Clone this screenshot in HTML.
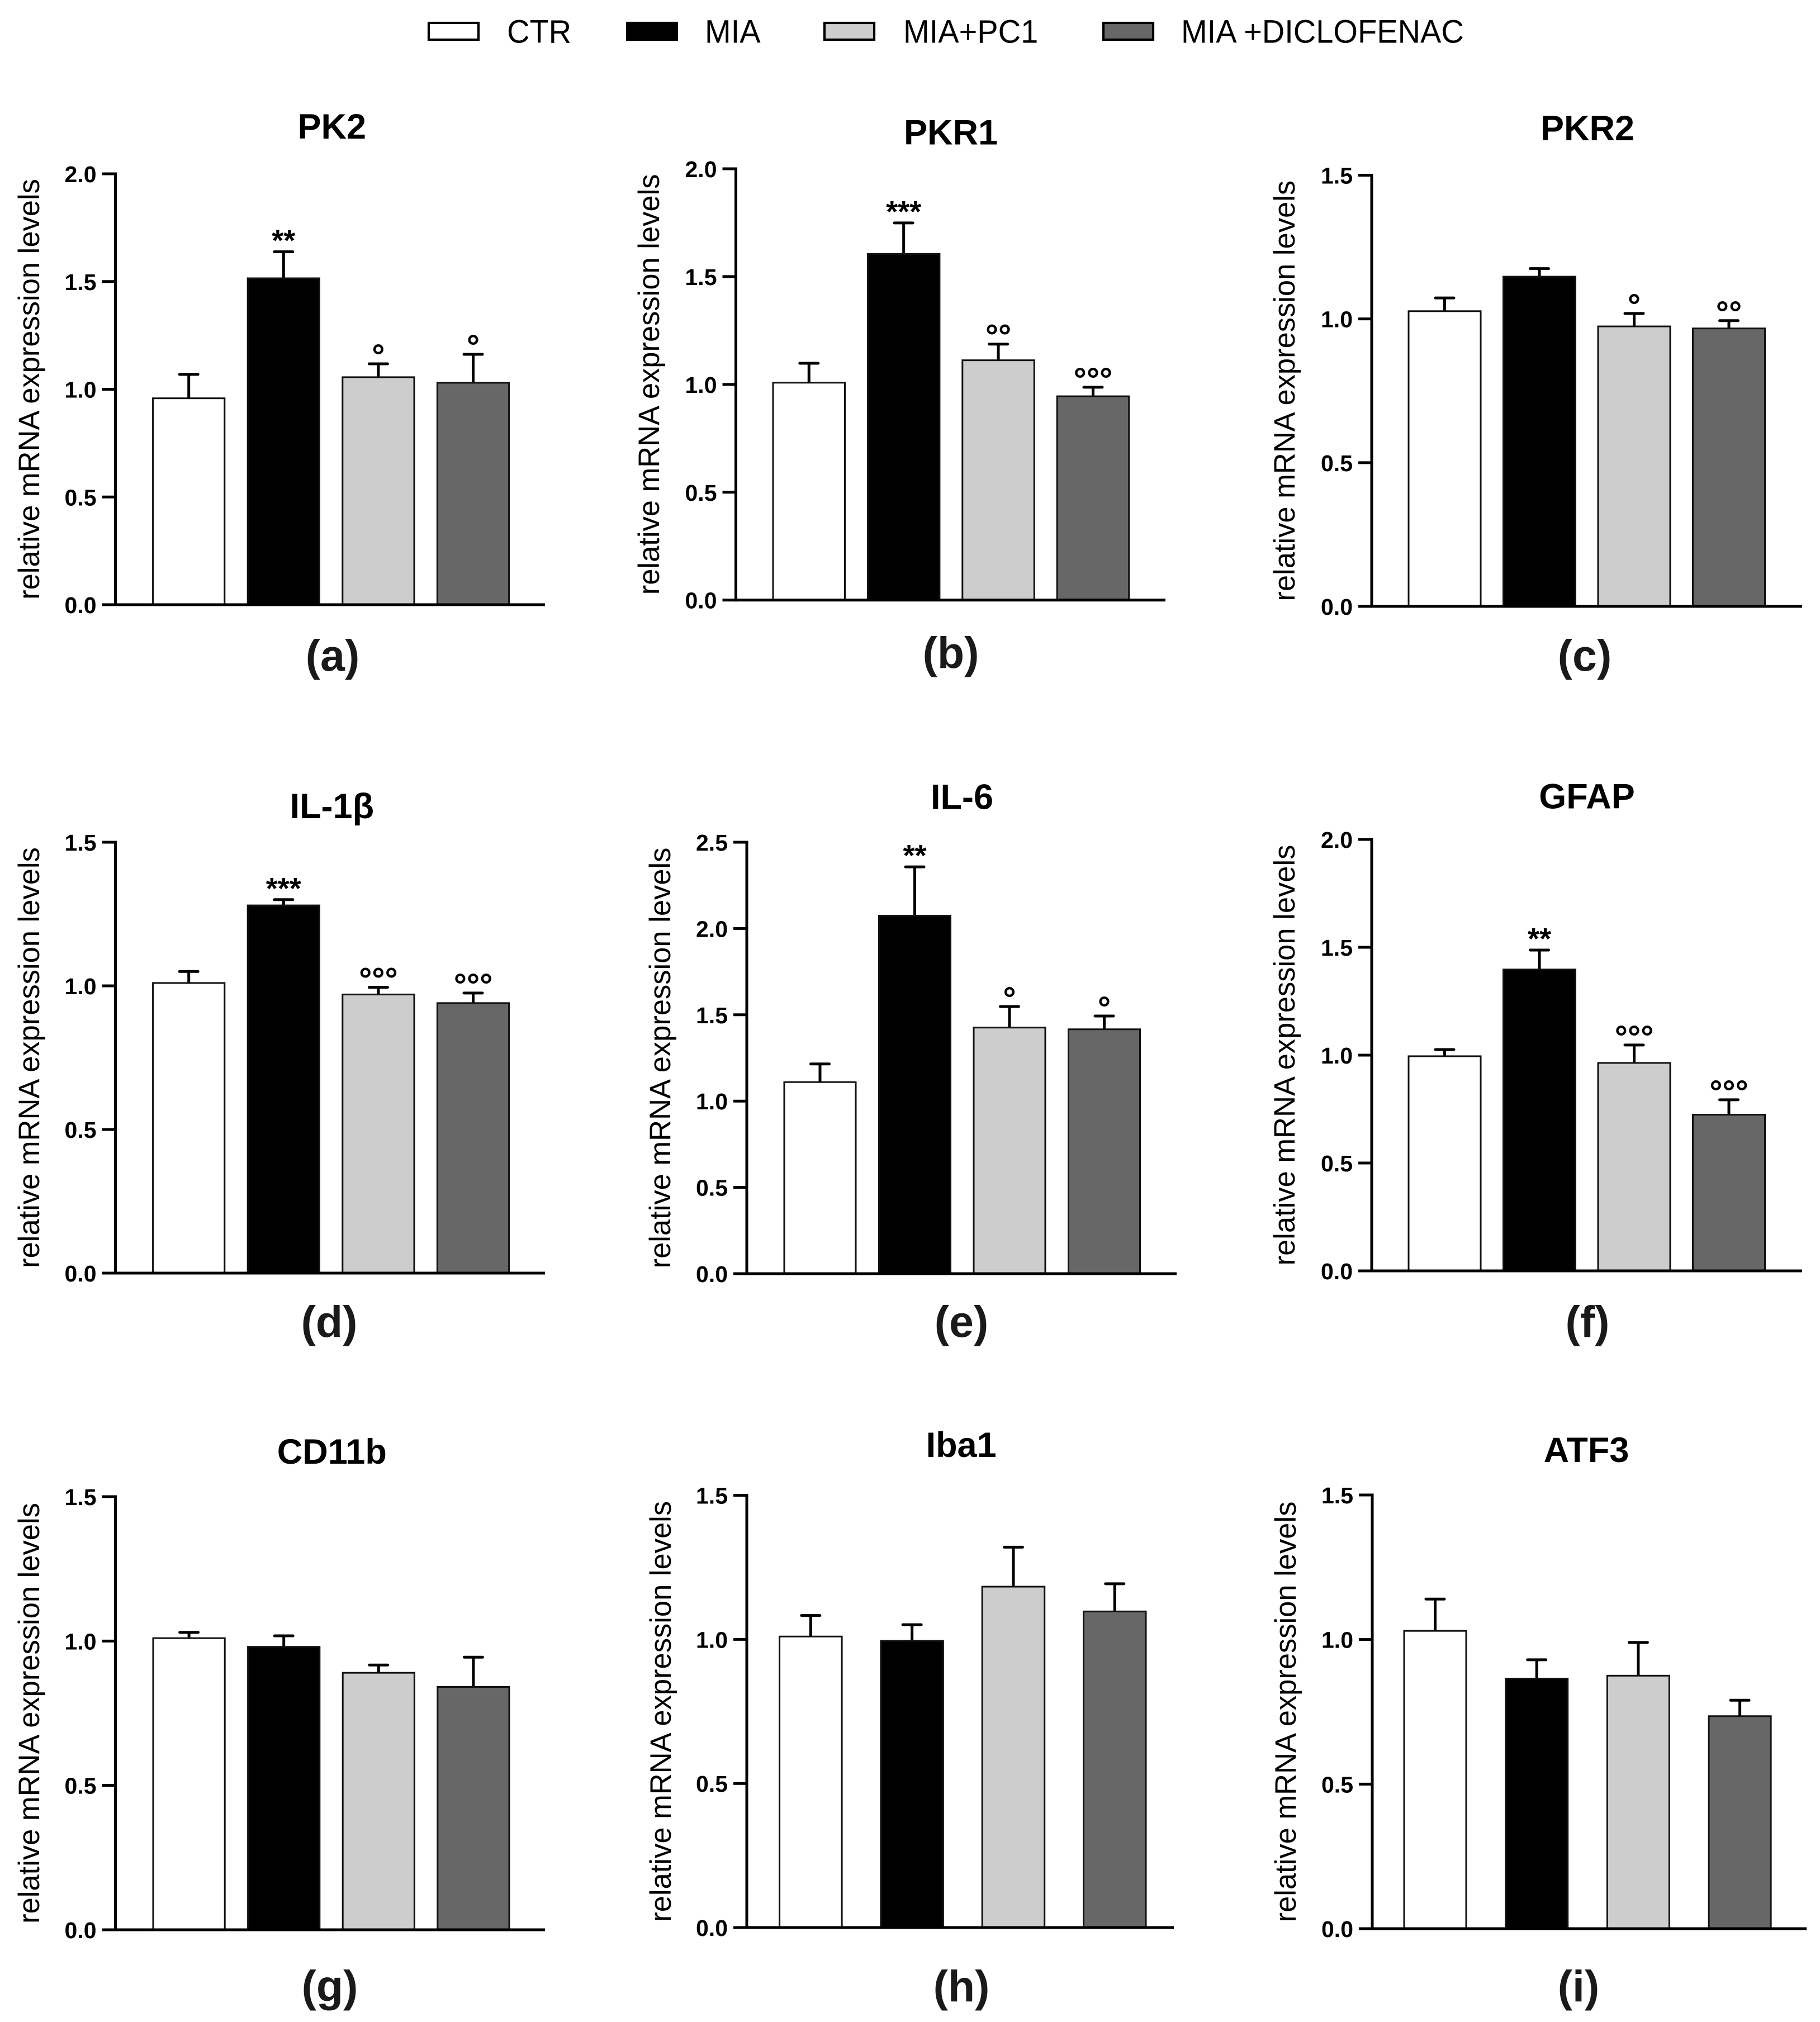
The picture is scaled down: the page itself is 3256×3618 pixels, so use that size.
<!DOCTYPE html>
<html lang="en">
<head>
<meta charset="utf-8">
<title>Relative mRNA expression levels</title>
<style>
html,body{margin:0;padding:0;background:#fff;width:3256px;height:3618px;overflow:hidden}
svg{display:block;font-family:"Liberation Sans",Arial,sans-serif}
</style>
</head>
<body>
<svg id="figure" xmlns="http://www.w3.org/2000/svg" width="3256" height="3618" viewBox="0 0 3256 3618"></svg>
<script>
const groupNames = ['CTR', 'MIA', 'MIA+PC1', 'MIA +DICLOFENAC'];
const groupFills = ['#ffffff', '#000000', '#cdcdcd', '#676767'];

const ticksTo15 = [0, 0.5, 1.0, 1.5];
const ticksTo20 = [0, 0.5, 1.0, 1.5, 2.0];
const ticksTo25 = [0, 0.5, 1.0, 1.5, 2.0, 2.5];

const pk2Values = [0.958, 1.515, 1.056, 1.03];
const pk2ErrorTops = [1.069, 1.638, 1.118, 1.162];
const pk2Marks = ['', '**', '°', '°'];

const pkr1Values = [1.008, 1.605, 1.112, 0.945];
const pkr1ErrorTops = [1.098, 1.749, 1.187, 0.987];
const pkr1Marks = ['', '***', '°°', '°°°'];

const pkr2Values = [1.027, 1.147, 0.974, 0.967];
const pkr2ErrorTops = [1.073, 1.175, 1.019, 0.994];
const pkr2Marks = ['', '', '°', '°°'];

const il1bValues = [1.01, 1.28, 0.97, 0.94];
const il1bErrorTops = [1.05, 1.30, 0.995, 0.975];
const il1bMarks = ['', '***', '°°°', '°°°'];

const il6Values = [1.11, 2.074, 1.426, 1.416];
const il6ErrorTops = [1.215, 2.357, 1.548, 1.493];
const il6Marks = ['', '**', '°', '°'];

const gfapValues = [0.995, 1.397, 0.964, 0.724];
const gfapErrorTops = [1.026, 1.487, 1.047, 0.793];
const gfapMarks = ['', '**', '°°°', '°°°'];

const cd11bValues = [1.01, 0.98, 0.89, 0.841];
const cd11bErrorTops = [1.03, 1.018, 0.917, 0.944];
const cd11bMarks = ['', '', '', ''];

const iba1Values = [1.01, 0.995, 1.183, 1.097];
const iba1ErrorTops = [1.083, 1.051, 1.32, 1.193];
const iba1Marks = ['', '', '', ''];

const atf3Values = [1.03, 0.865, 0.875, 0.735];
const atf3ErrorTops = [1.14, 0.93, 0.99, 0.79];
const atf3Marks = ['', '', '', ''];

const panels = [
  {title:'PK2',  tag:'(a)', values:pk2Values,  tops:pk2ErrorTops,  marks:pk2Marks,  ticks:ticksTo20, ax:206.5, y0:1082, yT:311,  xEnd:975,  bar0:273.6, w:128.2, step:169.6, titleX:593.8, titleY:248,  tagX:595,  tagY:1200, ylX:70},
  {title:'PKR1', tag:'(b)', values:pkr1Values, tops:pkr1ErrorTops, marks:pkr1Marks, ticks:ticksTo20, ax:1316.5,y0:1073.7,yT:302, xEnd:2085, bar0:1383,  w:128.5, step:169.4, titleX:1701,  titleY:258.7,tagX:1701, tagY:1195, ylX:1179},
  {title:'PKR2', tag:'(c)', values:pkr2Values, tops:pkr2ErrorTops, marks:pkr2Marks, ticks:ticksTo15, ax:2454,  y0:1085, yT:313.5,xEnd:3224, bar0:2520,  w:129,   step:169.5, titleX:2840, titleY:251,  tagX:2835, tagY:1200, ylX:2316},
  {title:'IL-1β',tag:'(d)', values:il1bValues, tops:il1bErrorTops, marks:il1bMarks, ticks:ticksTo15, ax:206.5, y0:2278, yT:1507, xEnd:975,  bar0:273.6, w:128.2, step:169.6, titleX:593.8, titleY:1464, tagX:589,  tagY:2392, ylX:70},
  {title:'IL-6', tag:'(e)', values:il6Values,  tops:il6ErrorTops,  marks:il6Marks,  ticks:ticksTo25, ax:1336,  y0:2279, yT:1507, xEnd:2105, bar0:1403,  w:128,   step:169.5, titleX:1721, titleY:1447.5, tagX:1720, tagY:2392, ylX:1199},
  {title:'GFAP', tag:'(f)', values:gfapValues, tops:gfapErrorTops, marks:gfapMarks, ticks:ticksTo20, ax:2454,  y0:2274, yT:1502, xEnd:3224, bar0:2520,  w:129,   step:169.5, titleX:2839, titleY:1446.5, tagX:2840, tagY:2392, ylX:2316},
  {title:'CD11b',tag:'(g)', values:cd11bValues,tops:cd11bErrorTops,marks:cd11bMarks,ticks:ticksTo15, ax:206.5, y0:3453, yT:2678, xEnd:975,  bar0:274,   w:128.2, step:169.6, titleX:593.8, titleY:2619, tagX:590,  tagY:3581, ylX:70},
  {title:'Iba1', tag:'(h)', values:iba1Values, tops:iba1ErrorTops, marks:iba1Marks, ticks:ticksTo15, ax:1336,  y0:3449, yT:2675.6,xEnd:2100,bar0:1394.6,w:111.5, step:181.3, titleX:1719.6,titleY:2607, tagX:1720, tagY:3581, ylX:1200},
  {title:'ATF3', tag:'(i)', values:atf3Values, tops:atf3ErrorTops, marks:atf3Marks, ticks:ticksTo15, ax:2455,  y0:3451, yT:2675, xEnd:3232, bar0:2512,  w:111,   step:181.7, titleX:2838, titleY:2616, tagX:2824, tagY:3581, ylX:2318}
];

const legendBoxX = [767, 1122, 1475, 1974];
const legendTextX = [907, 1261, 1616, 2113];

const svg = document.getElementById('figure');
const NS = 'http://www.w3.org/2000/svg';

function make(tag, attrs, parent) {
  const el = document.createElementNS(NS, tag);
  for (const k in attrs) el.setAttribute(k, attrs[k]);
  (parent || svg).appendChild(el);
  return el;
}
function slug(s) {
  return s.toLowerCase().replace(/[^a-z0-9]+/g, '-').replace(/^-|-$/g, '');
}

/* legend */
const legend = make('g', {});


groupNames.forEach(function (name, i) {
  const swatch = make('rect', {x: legendBoxX[i], y: 41, width: 89, height: 30, fill: groupFills[i], stroke: '#000', 'stroke-width': 4.2}, legend);
  
  
  const label = make('text', {x: 0, y: 0, 'font-size': 58, fill: '#000', transform: 'translate(' + legendTextX[i] + ' 76.7) scale(0.966 1)'}, legend);
  label.textContent = name;
  
  
});

/* panels */
panels.forEach(function (p) {
  const key = slug(p.title);
  const yMax = p.ticks[p.ticks.length - 1];
  const yScale = function (v) { return p.y0 - (v / yMax) * (p.y0 - p.yT); };
  const xScale = function (i) { return p.bar0 + i * p.step; };

  const g = make('g', {});
  
  

  const title = make('text', {x: p.titleX, y: p.titleY, 'font-size': 63, 'font-weight': 700, 'text-anchor': 'middle', fill: '#000'}, g);
  title.textContent = p.title;
  
  

  const tag = make('text', {x: p.tagX, y: p.tagY, 'font-size': 79, 'font-weight': 700, 'text-anchor': 'middle', fill: '#1a1a1a'}, g);
  tag.textContent = p.tag;
  
  

  const cy = (p.y0 + p.yT) / 2;
  const yTitle = make('text', {x: p.ylX, y: cy, 'font-size': 52.5, 'text-anchor': 'middle', fill: '#000', transform: 'rotate(-90 ' + p.ylX + ' ' + cy + ')'}, g);
  yTitle.textContent = 'relative mRNA expression levels';
  
  

  p.values.forEach(function (v, i) {
    const bx = xScale(i);
    const cx = bx + p.w / 2;
    const errTop = yScale(p.tops[i]);
    const stem = make('line', {x1: cx, x2: cx, y1: yScale(v), y2: errTop, stroke: '#000', 'stroke-width': 5}, g);
    
    
    const cap = make('line', {x1: cx - 16.5, x2: cx + 16.5, y1: errTop, y2: errTop, stroke: '#000', 'stroke-width': 5, 'stroke-linecap': 'round'}, g);
    
    
    const bar = make('rect', {x: bx, y: yScale(v), width: p.w, height: p.y0 - yScale(v), fill: groupFills[i], stroke: '#111', 'stroke-width': 3}, g);
    
    
    if (p.marks[i]) {
      const isRing = p.marks[i].charAt(0) === '°';
      const mark = make('text', {x: cx, y: errTop + (isRing ? 5.5 : -2), 'font-size': isRing ? 58 : 54, 'font-weight': 700, 'text-anchor': 'middle', fill: '#000'}, g);
      mark.textContent = p.marks[i];
      
      
    }
  });

  const yAxis = make('line', {x1: p.ax, x2: p.ax, y1: p.yT - 2.5, y2: p.y0 + 2.5, stroke: '#000', 'stroke-width': 5}, g);
  
  
  const xAxis = make('line', {x1: p.ax - 24, x2: p.xEnd, y1: p.y0, y2: p.y0, stroke: '#000', 'stroke-width': 5}, g);
  
  

  p.ticks.forEach(function (t) {
    const ty = yScale(t);
    if (t !== 0) {
      const tick = make('line', {x1: p.ax - 24, x2: p.ax, y1: ty, y2: ty, stroke: '#000', 'stroke-width': 5}, g);
      
      
    }
    const tl = make('text', {x: p.ax - 34, y: ty + 15, 'font-size': 41, 'font-weight': 700, 'text-anchor': 'end', fill: '#000'}, g);
    tl.textContent = t.toFixed(1);
    
    
  });
});
</script>
</body>
</html>
